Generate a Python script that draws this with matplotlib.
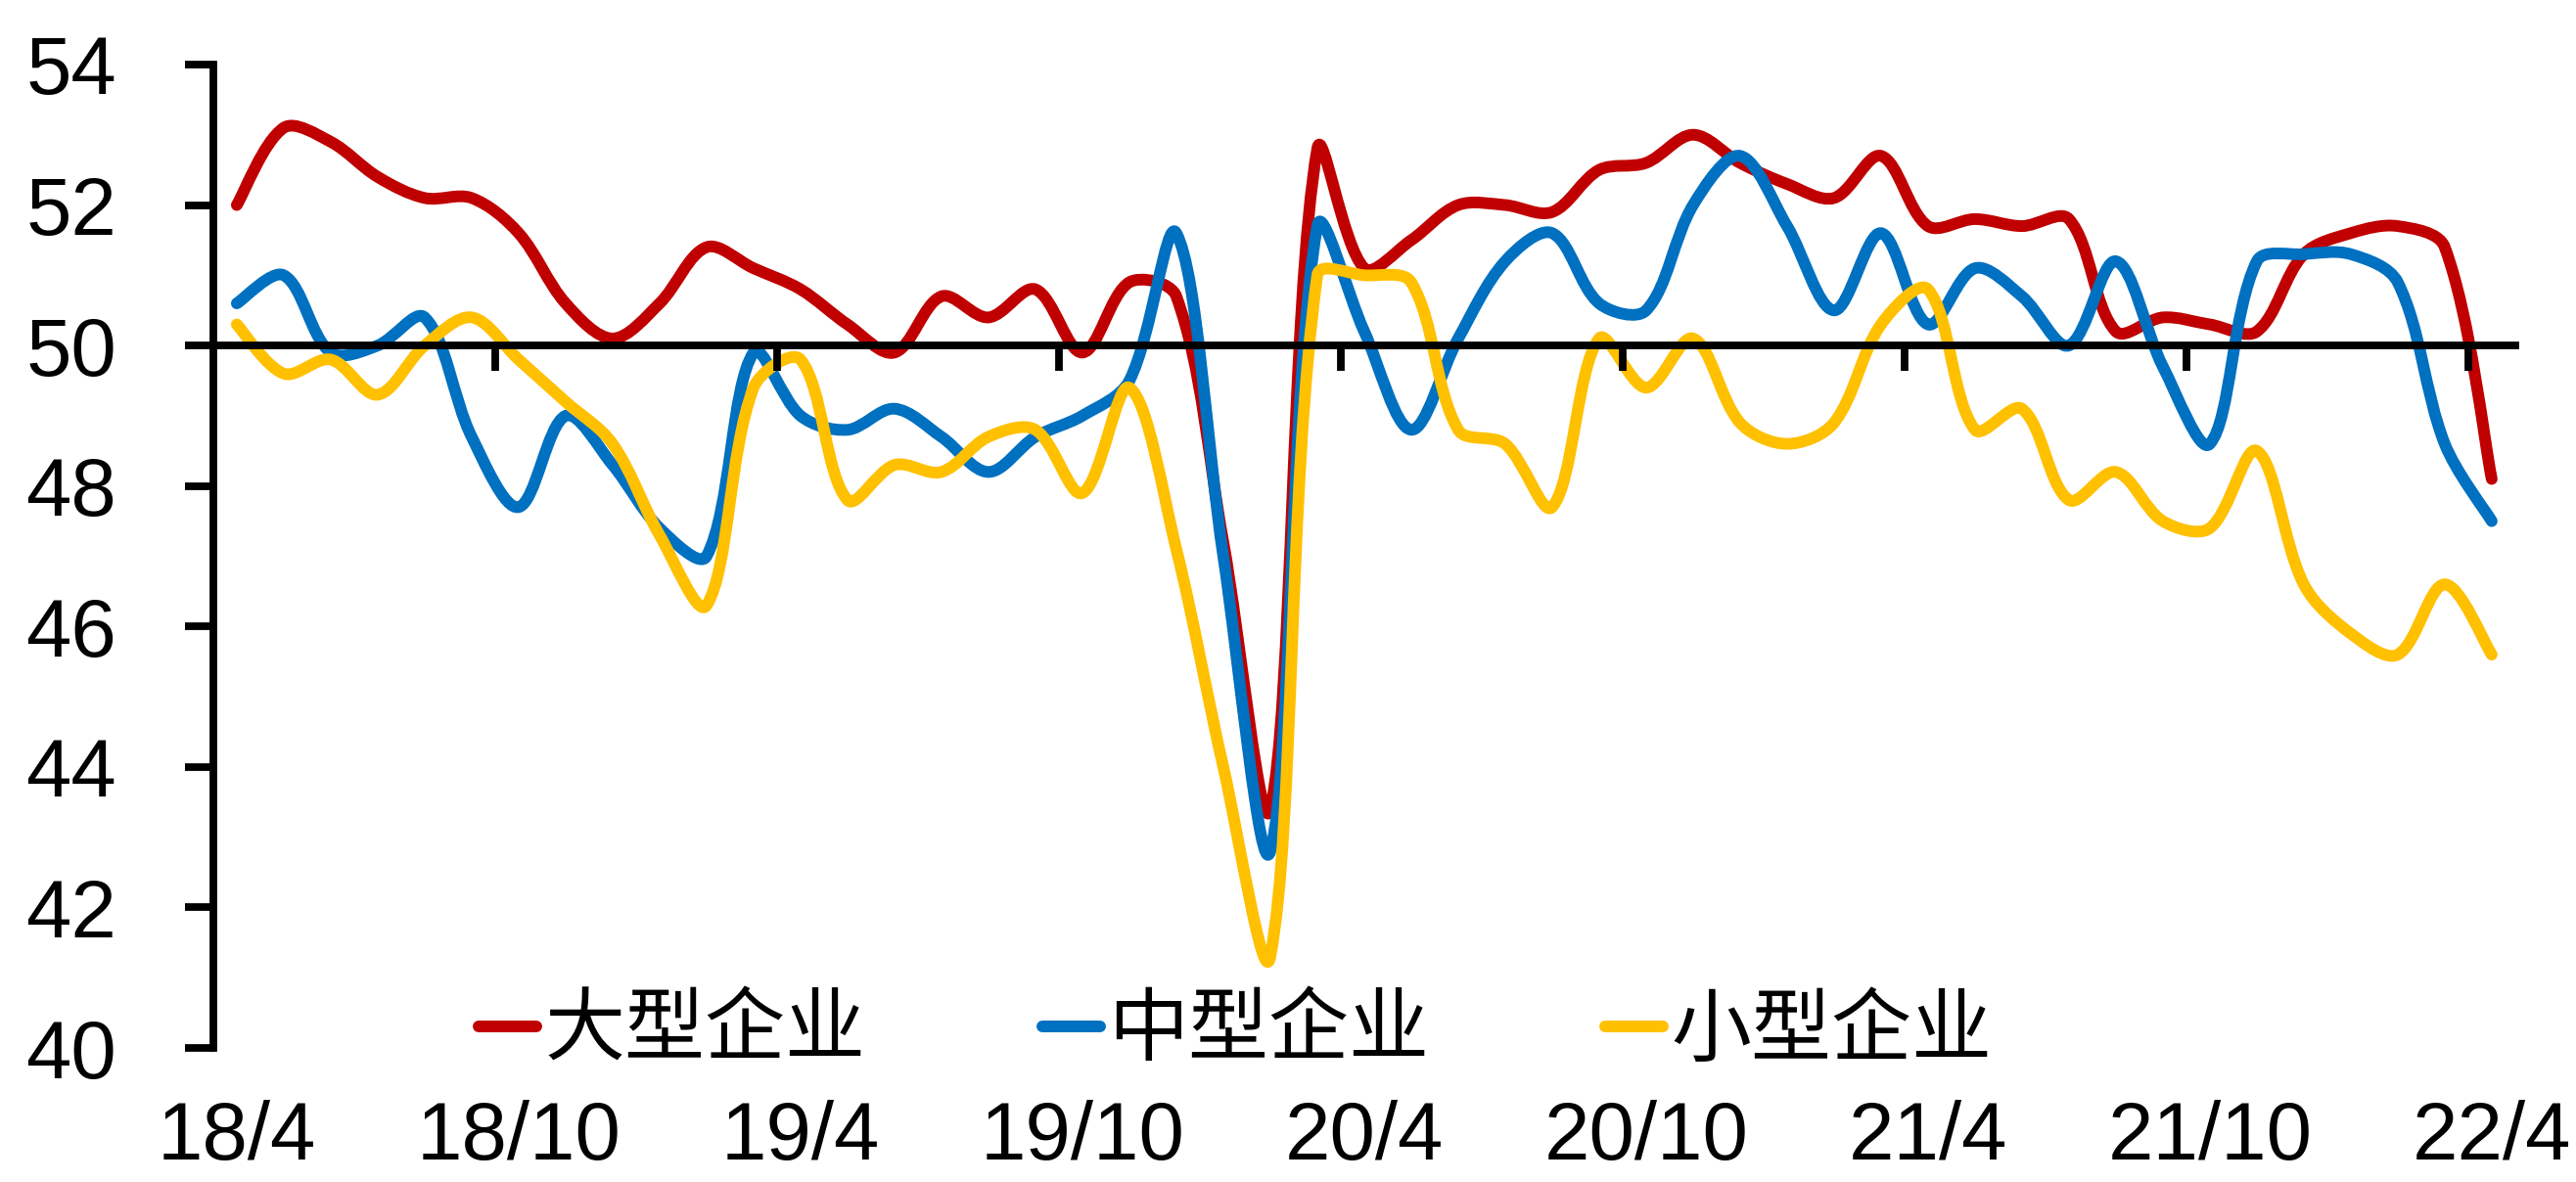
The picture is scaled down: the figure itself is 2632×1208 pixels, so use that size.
import matplotlib
matplotlib.use("Agg")
import matplotlib.pyplot as plt
from matplotlib.path import Path
from matplotlib.patches import PathPatch
from matplotlib.lines import Line2D
import numpy as np

plt.rcParams['font.family'] = ['Liberation Sans', 'Noto Sans CJK SC', 'DejaVu Sans']

# monthly, 2018/4 .. 2022/4
large = [52.0, 53.1, 52.9, 52.4, 52.1, 52.1, 51.6, 50.6, 50.1, 50.6,
         51.4, 51.1, 50.8, 50.3, 49.9, 50.7, 50.4, 50.8, 49.9, 50.9,
         50.7, 47.2, 43.4, 52.8, 51.1, 51.5, 52.0, 52.0, 51.9, 52.5,
         52.6, 53.0, 52.6, 52.3, 52.1, 52.7, 51.7, 51.8, 51.7, 51.8,
         50.2, 50.4, 50.3, 50.2, 51.3, 51.6, 51.7, 51.4, 48.1]
medium = [50.6, 51.0, 49.9, 50.0, 50.4, 48.7, 47.7, 49.0, 48.3, 47.4,
          47.0, 49.9, 49.0, 48.8, 49.1, 48.7, 48.2, 48.7, 49.0, 49.5,
          51.6, 47.0, 42.8, 51.7, 50.2, 48.8, 50.1, 51.2, 51.6, 50.6,
          50.5, 52.0, 52.7, 51.7, 50.5, 51.6, 50.3, 51.1, 50.7, 50.0,
          51.2, 49.7, 48.6, 51.2, 51.3, 51.3, 50.9, 48.6, 47.5]
small = [50.3, 49.6, 49.8, 49.3, 50.0, 50.4, 49.8, 49.2, 48.6, 47.3,
         46.3, 49.4, 49.8, 47.8, 48.3, 48.2, 48.7, 48.8, 47.9, 49.4,
         47.1, 44.0, 41.3, 51.0, 51.0, 50.9, 48.8, 48.6, 47.7, 50.1,
         49.4, 50.1, 48.9, 48.6, 48.9, 50.3, 50.8, 48.8, 49.1, 47.8,
         48.2, 47.5, 47.4, 48.5, 46.6, 45.9, 45.6, 46.6, 45.6]

names = ['大型企业', '中型企业', '小型企业']
colors = ['#C00000', '#0070C0', '#FFC000']
tick_labels = ['18/4', '18/10', '19/4', '19/10', '20/4', '20/10', '21/4', '21/10', '22/4']


def smooth_path(x, y, sx=48.0, sy=71.8):
    # smoothed line like office charts: bezier through every point,
    # tangent split by neighbouring segment lengths to limit overshoot
    pts = np.column_stack([x, y]).astype(float)
    n = len(pts)
    scale = np.array([sx, sy])
    dist = np.hypot(*((pts[1:] - pts[:-1]) * scale).T)
    verts = [pts[0]]
    codes = [Path.MOVETO]
    for i in range(n - 1):
        p1, p2 = pts[i], pts[i + 1]
        d = dist[i]
        if i > 0:
            t1 = (p2 - pts[i - 1]) * d / (dist[i - 1] + d) / 3
        else:
            t1 = (p2 - p1) / 3 * 0.5
        if i + 2 < n:
            t2 = (pts[i + 2] - p1) * d / (d + dist[i + 1]) / 3
        else:
            t2 = (p2 - p1) / 3 * 0.5
        verts += [p1 + t1, p2 - t2, p2]
        codes += [Path.CURVE4] * 3
    return Path(verts, codes)


fig = plt.figure(figsize=(13.16, 6.04), dpi=200)
ax = fig.add_axes([0.0828, 0.1134, 0.8936, 0.832])

x = np.arange(len(large))
handles = []
for series, c, name in zip([large, medium, small], colors, names):
    ax.add_patch(PathPatch(smooth_path(x, series), facecolor='none', edgecolor=c,
                           lw=4.3, capstyle='round', joinstyle='round'))
    handles.append(Line2D([], [], color=c, lw=4.3, solid_capstyle='round', label=name))

ax.set_xlim(-0.5, len(large) - 0.5)
ax.set_ylim(40, 54)
ax.set_yticks(np.arange(40, 55, 2))
ax.tick_params(axis='y', direction='out', length=10.5, width=2.8, pad=25, labelsize=30)

for s in ['top', 'right']:
    ax.spines[s].set_visible(False)
ax.spines['left'].set_linewidth(2.8)
ax.spines['bottom'].set_position(('data', 50))
ax.spines['bottom'].set_linewidth(2.8)
ax.set_xticks(np.arange(-0.5, len(large), 6)[1:])
ax.tick_params(axis='x', direction='out', length=9.5, width=2.8, labelbottom=False)

sec = ax.secondary_xaxis('bottom')
sec.spines['bottom'].set_visible(False)
sec.set_xticks(x[::6])
sec.set_xticklabels(tick_labels)
sec.tick_params(length=0, pad=19, labelsize=30)

ax.legend(handles=handles, loc='center', bbox_to_anchor=(0.444, 0.017), ncol=3,
          frameon=False, prop={'family': 'Noto Sans CJK SC', 'size': 29.5},
          handlelength=0.72, handletextpad=0.1, columnspacing=2.2)

fig.savefig('out.png', dpi=200)
